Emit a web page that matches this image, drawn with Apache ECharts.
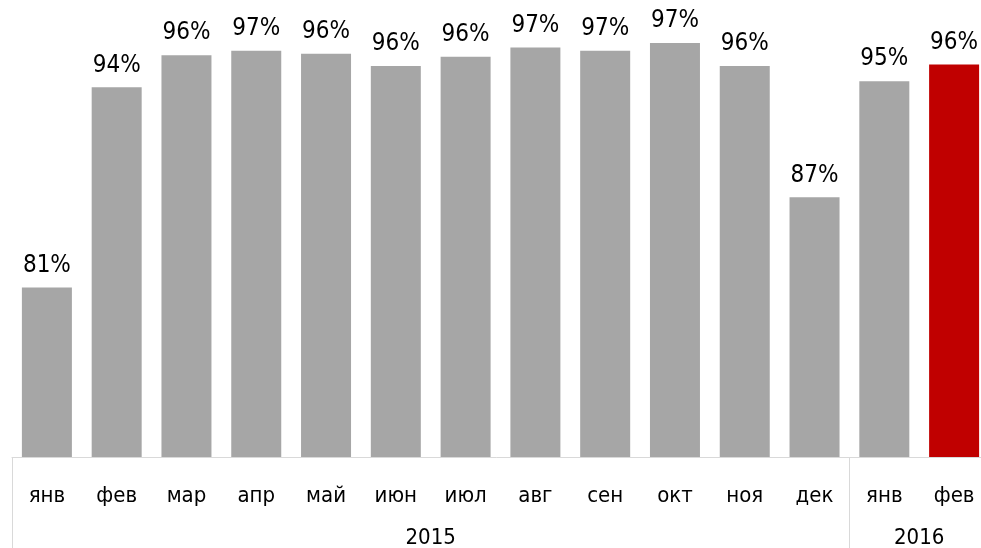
<!DOCTYPE html>
<html lang="ru">
<head>
  <meta charset="UTF-8">
  <title>Chart</title>
  <script src="https://cdn.jsdelivr.net/npm/echarts@6/dist/echarts.min.js"></script>
  <style>
    html, body { margin: 0; padding: 0; background: #fff; }
    #chart { width: 981px; height: 548px; }
  </style>
</head>
<body>
  <div id="chart"></div>
  <script>
    // данные
    var months = ['янв', 'фев', 'мар', 'апр', 'май', 'июн', 'июл', 'авг', 'сен', 'окт', 'ноя', 'дек', 'янв', 'фев'];
    var values = [81.1, 94.2, 96.3, 96.6, 96.4, 95.6, 96.2, 96.8, 96.6, 97.1, 95.6, 87.0, 94.6, 95.7];
    var years = ['2015', '2016'];
    var yearSpans = [12, 2];

    var font = 'DejaVu Sans Condensed';
    var lastIdx = values.length - 1;

    // вторая ось: точки на каждой половине месяца
    var halfPoints = [];
    var yearLabelAt = {};
    var boundaryAt = { 0: true };
    var pos = 0;
    for (var i = 0; i < years.length; i++) {
      yearLabelAt[(pos * 2) + yearSpans[i]] = years[i];
      pos += yearSpans[i];
      boundaryAt[pos * 2] = true;
    }
    for (var k = 0; k <= months.length * 2; k++) {
      halfPoints.push(yearLabelAt[k] || '');
    }

    var chart = echarts.init(document.getElementById('chart'));
    var option = {
      animation: false,
      grid: {
        left: 12,
        right: -8,
        top: 14,
        bottom: 91,
        outerBoundsMode: 'none'
      },
      xAxis: [
        {
          type: 'category',
          data: months,
          position: 'bottom',
          axisLine: { show: false },
          axisTick: { show: false },
          axisLabel: {
            interval: 0,
            margin: 28,
            color: '#000',
            fontFamily: font,
            fontSize: 22
          }
        },
        {
          type: 'category',
          data: halfPoints,
          position: 'bottom',
          boundaryGap: false,
          axisLine: { show: true, lineStyle: { color: '#d9d9d9', width: 1 } },
          axisTick: {
            show: true,
            length: 92,
            interval: function (index) { return !!boundaryAt[index]; },
            lineStyle: { color: '#d9d9d9', width: 1 }
          },
          axisLabel: {
            interval: function (index) { return !!yearLabelAt[index]; },
            margin: 70,
            color: '#000',
            fontFamily: font,
            fontSize: 22
          }
        }
      ],
      yAxis: {
        type: 'value',
        min: 70,
        max: 99,
        show: false,
        splitLine: { show: false }
      },
      series: [{
        type: 'bar',
        data: values,
        barWidth: 50,
        itemStyle: {
          color: function (p) {
            return p.dataIndex === lastIdx ? '#c00000' : '#a6a6a6';
          }
        },
        label: {
          show: true,
          position: 'top',
          distance: 10,
          color: '#000',
          fontFamily: font,
          fontSize: 24,
          formatter: function (p) { return Math.round(p.value) + '%'; }
        }
      }]
    };
    chart.setOption(option);
  </script>
</body>
</html>
